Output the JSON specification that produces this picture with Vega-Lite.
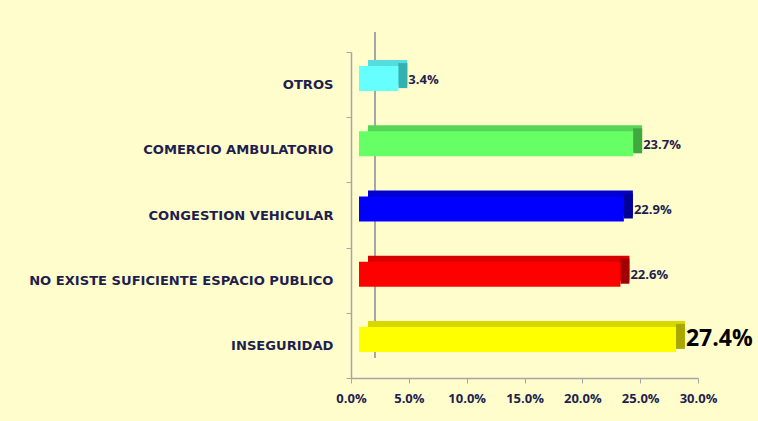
{
  "$schema": "https://vega.github.io/schema/vega-lite/v6.json",
  "width": 347,
  "height": 326,
  "autosize": {"type": "none"},
  "padding": {"left": 351, "top": 52, "right": 60, "bottom": 43},
  "background": "#FFFDCC",
  "config": {"view": {"stroke": null}, "font": "Open Sans"},
  "data": {
    "values": [
      {"categoria": "OTROS", "valor": 0.034},
      {"categoria": "COMERCIO AMBULATORIO", "valor": 0.237},
      {"categoria": "CONGESTION VEHICULAR", "valor": 0.229},
      {"categoria": "NO EXISTE SUFICIENTE ESPACIO PUBLICO", "valor": 0.226},
      {"categoria": "INSEGURIDAD", "valor": 0.274}
    ]
  },
  "resolve": {"scale": {"color": "independent", "fill": "independent"}},
  "layer": [
    {
      "mark": {"type": "rule", "color": "#A6A6A6", "strokeWidth": 1.5, "xOffset": 24, "yOffset": -20, "y2Offset": -20},
      "encoding": {
        "x": {"datum": 0, "type": "quantitative", "scale": {"domain": [0, 0.3], "nice": false}},
        "y": {
          "datum": "OTROS", "type": "nominal", "bandPosition": 0,
          "scale": {
            "domain": ["OTROS", "COMERCIO AMBULATORIO", "CONGESTION VEHICULAR", "NO EXISTE SUFICIENTE ESPACIO PUBLICO", "INSEGURIDAD"],
            "paddingInner": 0, "paddingOuter": 0
          }
        },
        "y2": {"datum": "INSEGURIDAD", "bandPosition": 1}
      }
    },
    {
      "mark": {"type": "bar", "height": 25, "xOffset": 17, "x2Offset": 17, "yOffset": -12},
      "encoding": {
        "y": {
          "field": "categoria", "type": "nominal", "sort": null,
          "scale": {
            "domain": ["OTROS", "COMERCIO AMBULATORIO", "CONGESTION VEHICULAR", "NO EXISTE SUFICIENTE ESPACIO PUBLICO", "INSEGURIDAD"],
            "paddingInner": 0, "paddingOuter": 0
          },
          "axis": {
            "title": null, "tickBand": "extent", "domainColor": "#A6A6A6", "domainWidth": 1.5,
            "tickColor": "#A6A6A6", "tickSize": 5, "labelPadding": 13,
            "labelFont": "DejaVu Sans", "labelFontSize": 13.1, "labelFontWeight": "bold", "labelColor": "#1F1F4F", "labelLimit": 400
          }
        },
        "x": {
          "field": "valor", "type": "quantitative",
          "scale": {"domain": [0, 0.3], "nice": false},
          "axis": {
            "title": null, "format": ".1%", "values": [0, 0.05, 0.1, 0.15, 0.2, 0.25, 0.3],
            "grid": false, "labelFlush": false, "domainColor": "#A6A6A6", "domainWidth": 1.5,
            "tickColor": "#A6A6A6", "tickSize": 5, "labelPadding": 9,
            "labelFontSize": 13, "labelFontWeight": "bold", "labelColor": "#1F1F4F"
          }
        },
        "color": {
          "field": "categoria", "type": "nominal", "legend": null,
          "scale": {
            "domain": ["OTROS", "COMERCIO AMBULATORIO", "CONGESTION VEHICULAR", "NO EXISTE SUFICIENTE ESPACIO PUBLICO", "INSEGURIDAD"],
            "range": ["#55DDDD", "#55D455", "#0000D0", "#D80000", "#D8D800"]
          }
        }
      }
    },
    {
      "mark": {"type": "bar", "height": 25, "yOffset": -9, "xOffset": 8, "x2Offset": 17},
      "encoding": {
        "y": {"field": "categoria", "type": "nominal", "sort": null},
        "x": {"field": "valor", "type": "quantitative"},
        "x2": {"field": "valor"},
        "fill": {
          "field": "categoria", "type": "nominal", "legend": null,
          "scale": {
            "domain": ["OTROS", "COMERCIO AMBULATORIO", "CONGESTION VEHICULAR", "NO EXISTE SUFICIENTE ESPACIO PUBLICO", "INSEGURIDAD"],
            "range": ["#33B0B0", "#3FA83F", "#000098", "#A00000", "#A8A800"]
          }
        }
      }
    },
    {
      "mark": {"type": "bar", "height": 25, "xOffset": 8, "x2Offset": 8, "yOffset": -6},
      "encoding": {
        "y": {"field": "categoria", "type": "nominal", "sort": null},
        "x": {"field": "valor", "type": "quantitative"},
        "color": {
          "field": "categoria", "type": "nominal", "legend": null,
          "scale": {
            "domain": ["OTROS", "COMERCIO AMBULATORIO", "CONGESTION VEHICULAR", "NO EXISTE SUFICIENTE ESPACIO PUBLICO", "INSEGURIDAD"],
            "range": ["#66FFFF", "#66FF66", "#0000FF", "#FF0000", "#FFFF00"]
          }
        }
      }
    },
    {
      "transform": [{"filter": "datum.categoria != 'INSEGURIDAD'"}],
      "mark": {"type": "text", "align": "left", "baseline": "middle", "dx": 18, "dy": -5, "fontSize": 13, "fontWeight": "bold", "color": "#1F1F4F"},
      "encoding": {
        "y": {"field": "categoria", "type": "nominal", "sort": null},
        "x": {"field": "valor", "type": "quantitative"},
        "text": {"field": "valor", "type": "quantitative", "format": ".1%"}
      }
    },
    {
      "transform": [{"filter": "datum.categoria == 'INSEGURIDAD'"}],
      "mark": {"type": "text", "align": "left", "baseline": "middle", "dx": 18, "dy": -6, "fontSize": 23, "fontWeight": "bold", "color": "#000000"},
      "encoding": {
        "y": {"field": "categoria", "type": "nominal", "sort": null},
        "x": {"field": "valor", "type": "quantitative"},
        "text": {"field": "valor", "type": "quantitative", "format": ".1%"}
      }
    }
  ]
}
